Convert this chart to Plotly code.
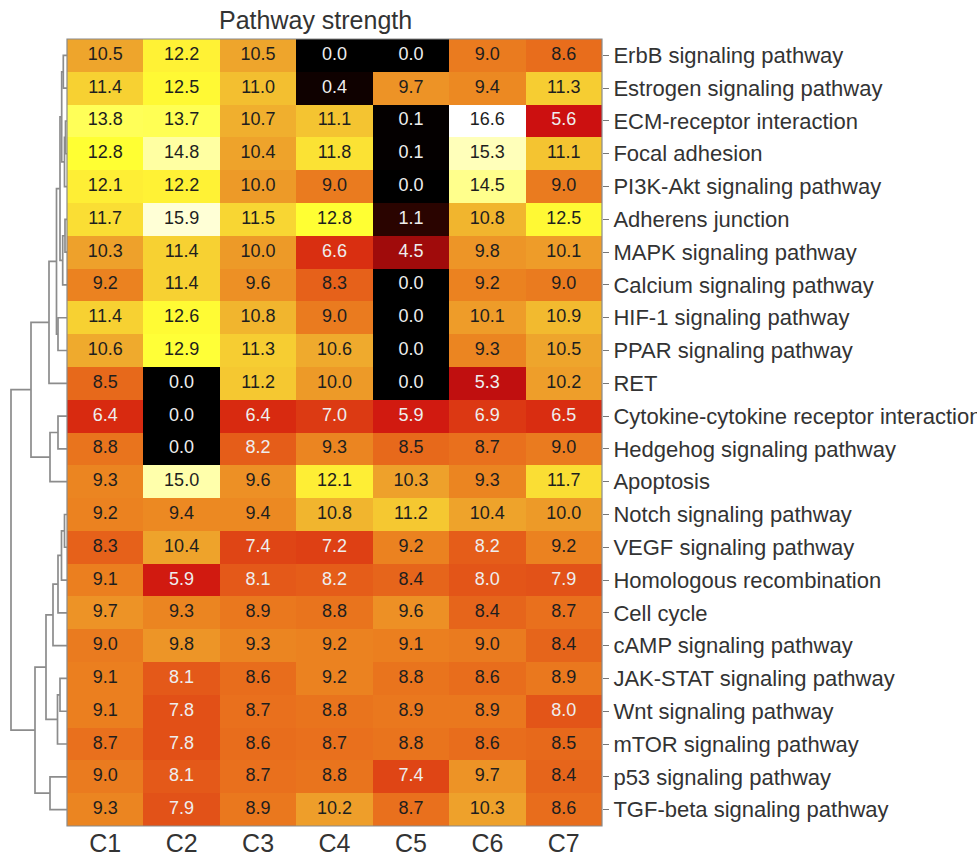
import plotly.graph_objects as go

# ---- data -------------------------------------------------------------
clusters = ["C1", "C2", "C3", "C4", "C5", "C6", "C7"]

pathways = [
    "ErbB signaling pathway",
    "Estrogen signaling pathway",
    "ECM-receptor interaction",
    "Focal adhesion",
    "PI3K-Akt signaling pathway",
    "Adherens junction",
    "MAPK signaling pathway",
    "Calcium signaling pathway",
    "HIF-1 signaling pathway",
    "PPAR signaling pathway",
    "RET",
    "Cytokine-cytokine receptor interaction",
    "Hedgehog signaling pathway",
    "Apoptosis",
    "Notch signaling pathway",
    "VEGF signaling pathway",
    "Homologous recombination",
    "Cell cycle",
    "cAMP signaling pathway",
    "JAK-STAT signaling pathway",
    "Wnt signaling pathway",
    "mTOR signaling pathway",
    "p53 signaling pathway",
    "TGF-beta signaling pathway",
]

strength = [
    [10.5, 12.2, 10.5, 0.0, 0.0, 9.0, 8.6],
    [11.4, 12.5, 11.0, 0.4, 9.7, 9.4, 11.3],
    [13.8, 13.7, 10.7, 11.1, 0.1, 16.6, 5.6],
    [12.8, 14.8, 10.4, 11.8, 0.1, 15.3, 11.1],
    [12.1, 12.2, 10.0, 9.0, 0.0, 14.5, 9.0],
    [11.7, 15.9, 11.5, 12.8, 1.1, 10.8, 12.5],
    [10.3, 11.4, 10.0, 6.6, 4.5, 9.8, 10.1],
    [9.2, 11.4, 9.6, 8.3, 0.0, 9.2, 9.0],
    [11.4, 12.6, 10.8, 9.0, 0.0, 10.1, 10.9],
    [10.6, 12.9, 11.3, 10.6, 0.0, 9.3, 10.5],
    [8.5, 0.0, 11.2, 10.0, 0.0, 5.3, 10.2],
    [6.4, 0.0, 6.4, 7.0, 5.9, 6.9, 6.5],
    [8.8, 0.0, 8.2, 9.3, 8.5, 8.7, 9.0],
    [9.3, 15.0, 9.6, 12.1, 10.3, 9.3, 11.7],
    [9.2, 9.4, 9.4, 10.8, 11.2, 10.4, 10.0],
    [8.3, 10.4, 7.4, 7.2, 9.2, 8.2, 9.2],
    [9.1, 5.9, 8.1, 8.2, 8.4, 8.0, 7.9],
    [9.7, 9.3, 8.9, 8.8, 9.6, 8.4, 8.7],
    [9.0, 9.8, 9.3, 9.2, 9.1, 9.0, 8.4],
    [9.1, 8.1, 8.6, 9.2, 8.8, 8.6, 8.9],
    [9.1, 7.8, 8.7, 8.8, 8.9, 8.9, 8.0],
    [8.7, 7.8, 8.6, 8.7, 8.8, 8.6, 8.5],
    [9.0, 8.1, 8.7, 8.8, 7.4, 9.7, 8.4],
    [9.3, 7.9, 8.9, 10.2, 8.7, 10.3, 8.6],
]

# Row clustering: each merge joins two members (leaf index, or "n<k>" for
# the k-th earlier merge) at the given linkage height.
row_merges = [
    (0, 1, 3.7),          # n0
    (2, 3, 1.5),          # n1
    ("n1", 4, 2.5),       # n2
    ("n0", "n2", 5.3),    # n3
    (5, 6, 2.0),          # n4
    ("n4", 7, 4.3),       # n5
    ("n3", "n5", 7.0),    # n6
    (8, 9, 9.0),          # n7
    ("n6", "n7", 10.5),   # n8
    ("n8", 10, 18.0),     # n9
    (11, 12, 9.0),        # n10
    ("n10", 13, 17.0),    # n11
    ("n9", "n11", 36.0),  # n12
    (14, 15, 2.5),        # n13
    ("n13", 16, 5.5),     # n14
    ("n14", 17, 9.0),     # n15
    ("n15", 18, 14.0),    # n16
    (19, 20, 7.0),        # n17
    ("n17", 21, 9.5),     # n18
    ("n16", "n18", 21.0), # n19
    (22, 23, 17.0),       # n20
    ("n19", "n20", 32.0), # n21
    ("n12", "n21", 56.0), # n22
]

# ---- colours ------------------------------------------------------------
z_max = 16.6
heat_stops = [
    (0.0, "#000000"),
    (1.1, "#2a0400"),
    (4.5, "#a00b0b"),
    (5.6, "#cc1010"),
    (6.4, "#d82a10"),
    (7.4, "#df4515"),
    (8.0, "#e35518"),
    (8.6, "#e86d1c"),
    (9.2, "#eb8220"),
    (9.7, "#ed9326"),
    (10.5, "#eea52c"),
    (11.0, "#f3bf30"),
    (11.5, "#f8d633"),
    (12.2, "#fff235"),
    (12.8, "#ffff33"),
    (13.8, "#ffff58"),
    (14.8, "#ffffa2"),
    (15.9, "#ffffd6"),
    (16.6, "#ffffff"),
]
colorscale = [[v / z_max, c] for v, c in heat_stops]

W, H = 977, 858
hm_left, hm_right, hm_top, hm_bottom = 67, 602, 39, 826
x_dom = [hm_left / W, hm_right / W]
y_dom = [1 - hm_bottom / H, 1 - hm_top / H]

n_rows, n_cols = len(pathways), len(clusters)
col_idx = list(range(n_cols))
row_idx = list(range(n_rows))

font_main = "Liberation Sans, Arial, sans-serif"

fig = go.Figure()

fig.add_trace(go.Heatmap(
    z=strength, x=col_idx, y=row_idx,
    zmin=0, zmax=z_max, colorscale=colorscale,
    showscale=False, hoverinfo="skip", xgap=0, ygap=0,
))

# cell labels
tx, ty, tt, tc = [], [], [], []
for r, row in enumerate(strength):
    for c, v in enumerate(row):
        tx.append(c)
        ty.append(r)
        tt.append(f"{v:.1f}")
        tc.append("#eeeeee" if v < 8.3 else "#1e1e1e")
fig.add_trace(go.Scatter(
    x=tx, y=ty, mode="text", text=tt,
    textfont=dict(family=font_main, size=18, color=tc),
    hoverinfo="skip", showlegend=False,
))

# dendrogram
node_pos = []  # (height, y-mid) of each merge


def member_pos(m):
    if isinstance(m, str):
        return node_pos[int(m[1:])]
    return (0.0, float(m))


dx, dy = [], []
for a, b, h in row_merges:
    ha, ya = member_pos(a)
    hb, yb = member_pos(b)
    dx += [ha, h, h, hb, None]
    dy += [ya, ya, yb, yb, None]
    node_pos.append((h, (ya + yb) / 2))

fig.add_trace(go.Scatter(
    x=dx, y=dy, xaxis="x2", yaxis="y", mode="lines",
    line=dict(color="#8c8c8c", width=1.7),
    hoverinfo="skip", showlegend=False,
))

fig.update_layout(
    width=W, height=H,
    margin=dict(l=0, r=0, t=0, b=0),
    paper_bgcolor="white", plot_bgcolor="white",
    showlegend=False,
    xaxis=dict(
        domain=x_dom, range=[-0.5, n_cols - 0.5],
        tickvals=col_idx, ticktext=clusters, ticks="",
        tickfont=dict(family=font_main, size=25, color="#333333"),
        showgrid=False, zeroline=False, showline=False, automargin=False,
        fixedrange=True,
    ),
    yaxis=dict(
        domain=y_dom, range=[n_rows - 0.5, -0.5], side="right",
        tickvals=row_idx, ticktext=pathways,
        ticks="outside", ticklen=6, tickcolor="#777777", tickwidth=1,
        tickfont=dict(family=font_main, size=22, color="#333333"),
        showgrid=False, zeroline=False, showline=False, automargin=False,
        fixedrange=True,
    ),
    xaxis2=dict(
        domain=[0, hm_left / W], range=[hm_left, 0], anchor="y",
        showticklabels=False, ticks="", showgrid=False, zeroline=False,
        showline=False, fixedrange=True,
    ),
    shapes=[dict(
        type="rect", xref="paper", yref="paper",
        x0=x_dom[0], x1=x_dom[1], y0=y_dom[0], y1=y_dom[1],
        line=dict(color="#8a8a8a", width=1.2), fillcolor="rgba(0,0,0,0)",
    )],
    annotations=[dict(
        text="Pathway strength", xref="paper", yref="paper",
        x=315 / W, y=1 - 20 / H,
        xanchor="center", yanchor="middle", showarrow=False,
        font=dict(family=font_main, size=25, color="#333333"),
    )],
)

fig.write_html("out.html")
